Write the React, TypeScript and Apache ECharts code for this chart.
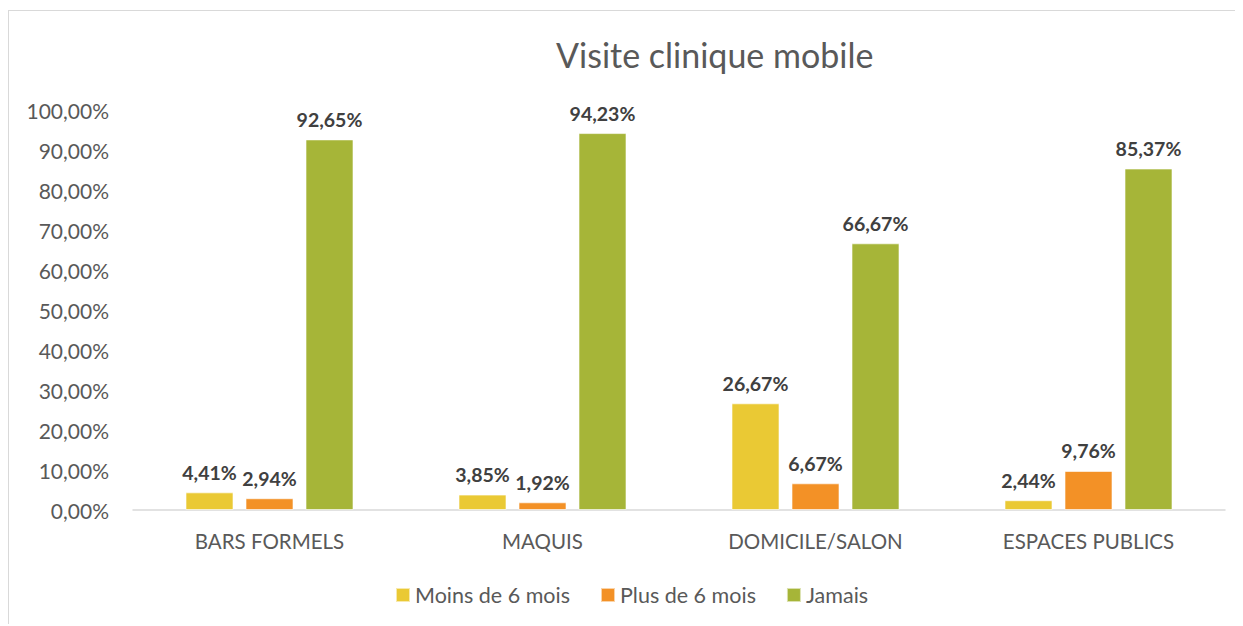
import React, { useEffect, useRef } from "react";
import * as echarts from "echarts";

const categories = ["BARS FORMELS", "MAQUIS", "DOMICILE/SALON", "ESPACES PUBLICS"];
const seriesNames = ["Moins de 6 mois", "Plus de 6 mois", "Jamais"];
const moinsDe6Mois = [4.41, 3.85, 26.67, 2.44];
const plusDe6Mois = [2.94, 1.92, 6.67, 9.76];
const jamais = [92.65, 94.23, 66.67, 85.37];
const colors = ["#EAC934", "#F39126", "#A6B538"];
const titleText = "Visite clinique mobile";

const FONT = "Lato, 'Open Sans', sans-serif";

const fmt = (v: number) => v.toFixed(2).replace(".", ",") + "%";

export default function App() {
  const ref = useRef<HTMLDivElement>(null);
  useEffect(() => {
    if (!ref.current) return;
    const chart = echarts.init(ref.current, null, { renderer: "svg" });
    const data = [moinsDe6Mois, plusDe6Mois, jamais];
    chart.setOption({
      animation: false,
      textStyle: { fontFamily: FONT },
      title: {
        text: titleText,
        left: 542,
        top: 21,
        textStyle: { fontFamily: FONT, fontSize: 34, fontWeight: "normal", color: "#595959" },
      },
      legend: {
        data: seriesNames,
        left: 381,
        top: 568,
        itemWidth: 14,
        itemHeight: 14,
        itemGap: 30,
        icon: "rect",
        textStyle: { fontFamily: FONT, fontSize: 21.5, color: "#595959" },
      },
      grid: { left: 124, right: 18, top: 99, bottom: 116, containLabel: false },
      xAxis: {
        type: "category",
        data: categories,
        axisLine: { lineStyle: { color: "#D9D9D9", width: 1.5 } },
        axisTick: { show: false },
        axisLabel: { fontFamily: FONT, fontSize: 20.5, color: "#595959", margin: 20 },
      },
      yAxis: {
        type: "value",
        min: 0,
        max: 100,
        interval: 10,
        axisLine: { show: false },
        axisTick: { show: false },
        splitLine: { show: false },
        axisLabel: {
          fontFamily: FONT,
          fontSize: 21,
          color: "#595959",
          margin: 24,
          formatter: (v: number) => fmt(v),
        },
      },
      series: seriesNames.map((name, i) => ({
        name,
        type: "bar",
        data: data[i],
        barWidth: 48,
        barGap: "25%",
        itemStyle: { color: colors[i], borderColor: "rgba(255,255,255,0.6)", borderWidth: 1 },
        label: {
          show: true,
          position: "top",
          distance: 10,
          fontFamily: FONT,
          fontSize: 19.5,
          fontWeight: "bold",
          color: "#404040",
          formatter: (p: any) => fmt(p.value),
        },
      })),
    });
    return () => chart.dispose();
  }, []);
  return (
    <div
      style={{
        position: "relative",
        top: 2,
        width: 1235,
        height: 616,
        borderTop: "1px solid #D9D9D9",
        borderLeft: "1px solid #D9D9D9",
        boxSizing: "border-box",
        overflow: "hidden",
      }}
    >
      <div ref={ref} style={{ width: 1234, height: 615 }} />
    </div>
  );
}
